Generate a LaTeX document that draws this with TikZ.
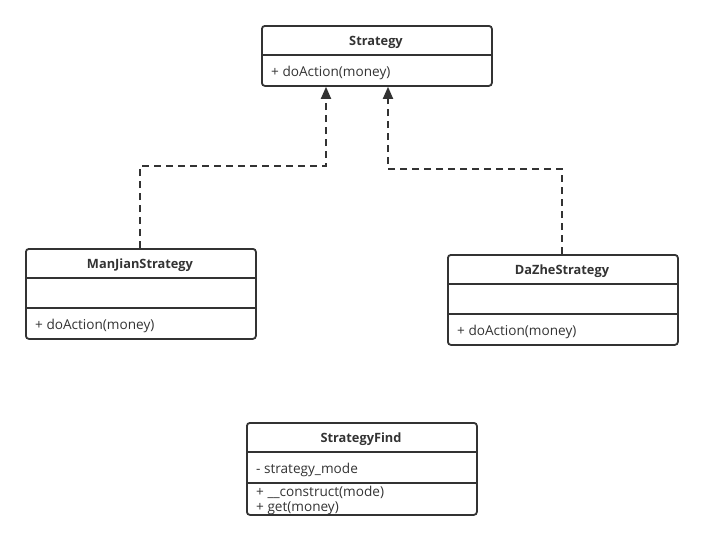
\documentclass[tikz,border=0pt]{standalone}
\usepackage{fontspec}
\setmainfont{Open Sans}
\usetikzlibrary{arrows.meta}
\begin{document}
\begin{tikzpicture}[x=1pt,y=-1pt,
  cls/.style={draw=black!80,line width=1.8pt,rounded corners=3pt,minimum width=230pt,inner sep=0pt,anchor=north west},
  div/.style={draw=black!80,line width=1.8pt},
  title/.style={font=\fontsize{12.8}{14}\selectfont\bfseries,text=black!80},
  member/.style={font=\fontsize{13.6}{15}\selectfont,text=black!80,anchor=west,inner sep=0pt},
  real/.style={draw=black!80,line width=1.8pt,dash pattern=on 7pt off 5pt,-{Triangle[width=10pt,length=12pt]}}]
\useasboundingbox (0,0) rectangle (702,539);
% Strategy
\node[cls,minimum height=60pt] (S) at (261,25) {};
\draw[div] (261,55) -- (491,55);
\node[title] (St) at (376,42) {Strategy};
\node[member] (Sm) at (271,72.5) {+ doAction(money)};
% ManJian
\node[cls,minimum height=90pt] (M) at (25,248) {};
\draw[div] (25,278) -- (255,278);
\draw[div] (25,308) -- (255,308);
\node[title] (Mt) at (140,265) {ManJianStrategy};
\node[member] (Mm) at (35,325.5) {+ doAction(money)};
% DaZhe
\node[cls,minimum height=90pt] (D) at (447,254) {};
\draw[div] (447,284) -- (677,284);
\draw[div] (447,314) -- (677,314);
\node[title] (Dt) at (562,271) {DaZheStrategy};
\node[member] (Dm) at (457,331.5) {+ doAction(money)};
% StrategyFind
\node[title] (Ft) at (361,439) {StrategyFind};
\node[member] (Fa) at (256,469.5) {- strategy\_mode};
\node[member] (Fb) at (256,492.5) {+ \_\_construct(mode)};
\node[member] (Fc) at (256,508.5) {+ get(money)};
\node[cls,minimum height=92pt] (F) at (246,422) {};
\draw[div] (246,452) -- (476,452);
\draw[div] (246,483) -- (476,483);
% realizations
\coordinate (m1) at (140,166);
\coordinate (m2) at (326,166);
\coordinate (d1) at (562,169);
\coordinate (d2) at (388,169);
\draw[real] (M.north -| m1) -- (m1) -- (m2) -- (S.south -| m2);
\draw[real] (D.north -| d1) -- (d1) -- (d2) -- (S.south -| d2);
\end{tikzpicture}
\end{document}
